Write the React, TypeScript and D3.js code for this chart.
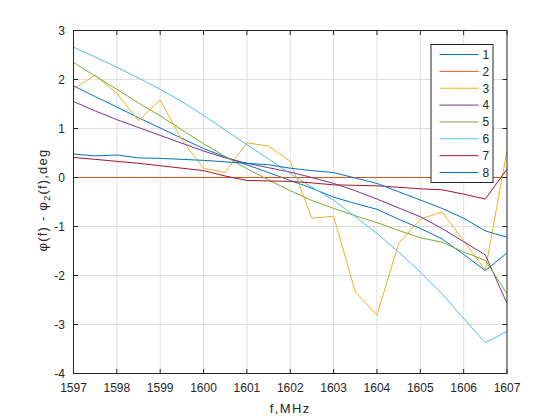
import React from 'react';
import * as d3 from 'd3';

const freqs = [
  1597, 1597.5, 1598, 1598.5, 1599, 1599.5, 1600, 1600.5, 1601, 1601.5, 1602,
  1602.5, 1603, 1603.5, 1604, 1604.5, 1605, 1605.5, 1606, 1606.5, 1607,
];

const s1 = [1.87, 1.65, 1.44, 1.22, 1.01, 0.8, 0.59, 0.42, 0.26, 0.1, -0.06, -0.22, -0.4, -0.53, -0.65, -0.85, -1.04, -1.25, -1.57, -1.9, -1.54];
const s2 = [0, 0, 0, 0, 0, 0, 0, 0, 0, 0, 0, 0, 0, 0, 0, 0, 0, 0, 0, 0, 0];
const s3 = [1.81, 2.09, 1.72, 1.16, 1.58, 0.77, 0.19, 0.1, 0.71, 0.64, 0.33, -0.83, -0.79, -2.33, -2.81, -1.35, -0.85, -0.7, -1.29, -1.89, 0.55];
const s4 = [1.55, 1.36, 1.18, 1.02, 0.86, 0.7, 0.54, 0.4, 0.29, 0.2, 0.11, 0.0, -0.12, -0.27, -0.44, -0.62, -0.8, -1.04, -1.31, -1.58, -2.57];
const s5 = [2.35, 2.07, 1.8, 1.52, 1.26, 0.97, 0.69, 0.43, 0.18, -0.05, -0.27, -0.47, -0.63, -0.78, -0.92, -1.08, -1.23, -1.32, -1.52, -1.69, -2.37];
const s6 = [2.66, 2.46, 2.25, 2.03, 1.8, 1.55, 1.27, 0.97, 0.67, 0.38, 0.08, -0.2, -0.46, -0.8, -1.14, -1.52, -1.93, -2.37, -2.88, -3.37, -3.14];
const s7 = [0.41, 0.37, 0.33, 0.29, 0.24, 0.19, 0.14, 0.03, -0.06, -0.07, -0.08, -0.11, -0.15, -0.16, -0.17, -0.2, -0.23, -0.25, -0.34, -0.44, 0.17];
const s8 = [0.48, 0.44, 0.46, 0.4, 0.39, 0.37, 0.35, 0.32, 0.29, 0.26, 0.19, 0.14, 0.1, -0.01, -0.12, -0.29, -0.46, -0.63, -0.83, -1.09, -1.22];

const seriesNames = ['1', '2', '3', '4', '5', '6', '7', '8'];
const seriesValues = [s1, s2, s3, s4, s5, s6, s7, s8];
const colors = ['#0072BD', '#D95319', '#EDB120', '#7E2F8E', '#77AC30', '#4DBEEE', '#A2142F', '#0072BD'];

const xTicks = [1597, 1598, 1599, 1600, 1601, 1602, 1603, 1604, 1605, 1606, 1607];
const yTicks = [-4, -3, -2, -1, 0, 1, 2, 3];

const W = 560;
const H = 420;
const margin = { left: 73.5, right: 53, top: 30.5, bottom: 46.5 };
const ink = '#262626';
const font = 'Liberation Sans, Arial, Helvetica, sans-serif';

export default function App() {
  const x = d3.scaleLinear().domain([1597, 1607]).range([margin.left, W - margin.right]);
  const y = d3.scaleLinear().domain([-4, 3]).range([H - margin.bottom, margin.top]);
  const [x0, x1] = x.range();
  const [y0, y1] = y.range();

  const line = d3
    .line<number>()
    .x((_, i) => x(freqs[i]))
    .y((d) => y(d));

  const tick = 4.5;
  const legend = { x: 431, y: 44.5, w: 62, h: 138 };
  const rowH = 16.86;

  return (
    <svg
      width={W}
      height={H}
      style={{ position: 'absolute', left: 0, top: 0, background: '#fff' }}
      fontFamily={font}
    >
      <rect x={0} y={0} width={W} height={H} fill="#fff" />
      <defs>
        <clipPath id="plot">
          <rect x={x0} y={y1} width={x1 - x0} height={y0 - y1} />
        </clipPath>
      </defs>

      {/* grid */}
      <g stroke="#dfdfdf" strokeWidth={1}>
        {xTicks.slice(1, -1).map((t) => (
          <line key={'gx' + t} x1={x(t)} x2={x(t)} y1={y1} y2={y0} />
        ))}
        {yTicks.slice(1, -1).map((t) => (
          <line key={'gy' + t} x1={x0} x2={x1} y1={y(t)} y2={y(t)} />
        ))}
      </g>

      {/* series */}
      <g clipPath="url(#plot)" fill="none" strokeWidth={1}>
        {seriesValues.map((vals, i) => (
          <path key={i} d={line(vals) || ''} stroke={colors[i]} />
        ))}
      </g>

      {/* box and ticks */}
      <rect x={x0} y={y1} width={x1 - x0} height={y0 - y1} fill="none" stroke={ink} strokeWidth={1} />
      <g stroke={ink} strokeWidth={1}>
        {xTicks.map((t) => (
          <g key={'tx' + t}>
            <line x1={x(t)} x2={x(t)} y1={y0} y2={y0 - tick} />
            <line x1={x(t)} x2={x(t)} y1={y1} y2={y1 + tick} />
          </g>
        ))}
        {yTicks.map((t) => (
          <g key={'ty' + t}>
            <line x1={x0} x2={x0 + tick} y1={y(t)} y2={y(t)} />
            <line x1={x1} x2={x1 - tick} y1={y(t)} y2={y(t)} />
          </g>
        ))}
      </g>

      {/* tick labels */}
      <g fill={ink} fontSize={12}>
        {xTicks.map((t) => (
          <text key={'lx' + t} x={x(t)} y={392} textAnchor="middle">
            {t}
          </text>
        ))}
        {yTicks.map((t) => (
          <text key={'ly' + t} x={x0 - 8.5} y={y(t) + 4.3} textAnchor="end">
            {t}
          </text>
        ))}
      </g>

      {/* axis labels */}
      <text
        x={(x0 + x1) / 2}
        y={413}
        textAnchor="middle"
        fontSize={13}
        letterSpacing={1.4}
        fill={ink}
      >
        f,MHz
      </text>
      <text
        transform="translate(47,200) rotate(-90)"
        textAnchor="middle"
        fontSize={13}
        letterSpacing={1.2}
        fill={ink}
      >
        φ(f) - φ<tspan fontSize={9.5} dy={3}>2</tspan>
        <tspan dy={-3}>(f),deg</tspan>
      </text>

      {/* legend */}
      <rect x={legend.x} y={legend.y} width={legend.w} height={legend.h} fill="#fff" stroke={ink} strokeWidth={1} />
      {seriesNames.map((name, i) => {
        const cy = 54.5 + rowH * i;
        return (
          <g key={'lg' + name}>
            <line x1={legend.x + 8.5} x2={legend.x + 47.5} y1={cy} y2={cy} stroke={colors[i]} strokeWidth={1} />
            <text x={legend.x + 51.5} y={cy + 4.3} fontSize={12} fill={ink}>
              {name}
            </text>
          </g>
        );
      })}
    </svg>
  );
}
